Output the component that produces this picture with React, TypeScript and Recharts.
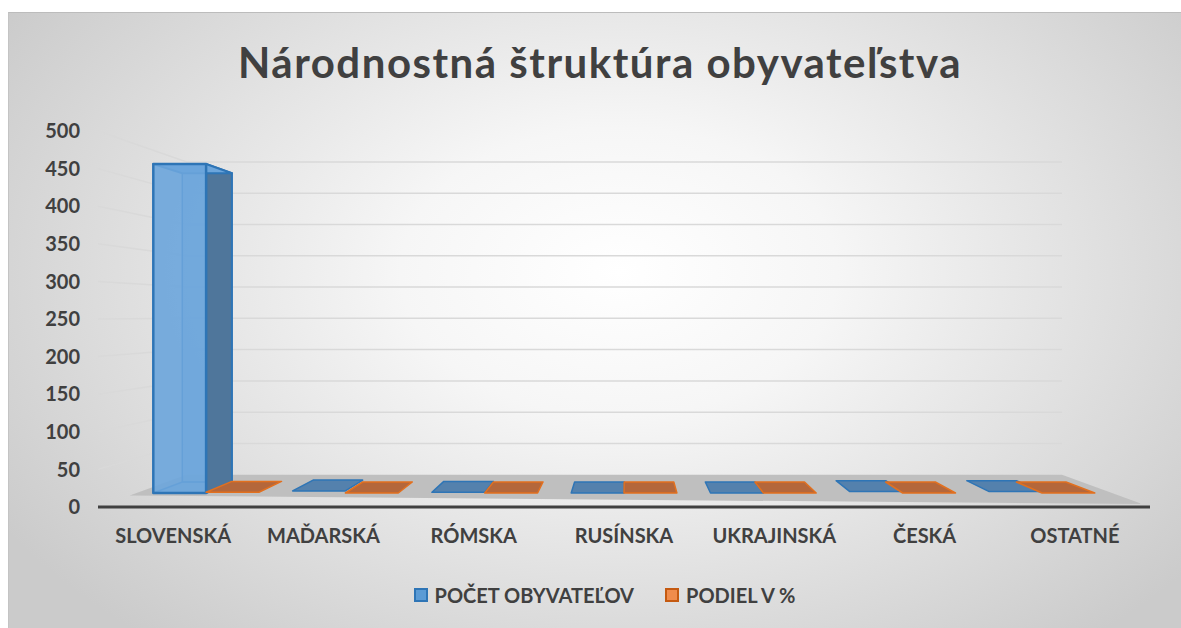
import React from 'react';
import { BarChart, Bar, XAxis, YAxis, CartesianGrid, Legend } from 'recharts';

const categories = ['SLOVENSKÁ', 'MAĎARSKÁ', 'RÓMSKA', 'RUSÍNSKA', 'UKRAJINSKÁ', 'ČESKÁ', 'OSTATNÉ'];
const population = [472, 3, 1, 0, 0, 2, 2];
const share = [0.983, 0.006, 0.002, 0, 0, 0.004, 0.004];
const yTicks = [0, 50, 100, 150, 200, 250, 300, 350, 400, 450, 500];
const populationName = 'POČET OBYVATEĽOV';
const shareName = 'PODIEL V %';
const seriesOrder = ['population', 'share'];

const data = categories.map((name, i) => ({ name, population: population[i], share: share[i] }));

// fake perspective: everything recharts gives us sits on the front plane,
// and gets pulled toward a vanishing point by depth factor k
const VP = { x: 626, y: 315 };
const K_FRONT = 0.927;
const K_BACK = 0.87;
const K_WALL = 0.832;

const proj = (X: number, Y: number, k: number) => [VP.x + (X - VP.x) * k, VP.y + (Y - VP.y) * k];
const pts = (a: number[][]) => a.map((q) => `${q[0].toFixed(1)},${q[1].toFixed(1)}`).join(' ');

const palettes: Record<string, any> = {
  population: { front: '#6ca5db', side: '#4f769b', tile: '#5481ad', edge: '#2e75b6', legend: '#5b9bd5', legendEdge: '#2e75b6' },
  share: { front: '#f08c4c', side: '#a65a2c', tile: '#b4673b', edge: '#e2701f', legend: '#f08c4c', legendEdge: '#c55a11' },
};

const textColor = '#404040';
const font = 'Lato, "Open Sans", sans-serif';

const makeBox = (pal: any) => (props: any) => {
  const { x, y, width, height } = props;
  if (x == null || y == null) return <g />;
  const top = y;
  const base = y + height;
  const F = [proj(x, top, K_FRONT), proj(x + width, top, K_FRONT), proj(x + width, base, K_FRONT), proj(x, base, K_FRONT)];
  const B = [proj(x, top, K_BACK), proj(x + width, top, K_BACK), proj(x + width, base, K_BACK), proj(x, base, K_BACK)];
  const topFace = [F[0], F[1], B[1], B[0]];
  if (Math.abs(height) < 3) {
    return <polygon points={pts(topFace)} fill={pal.tile} stroke={pal.edge} strokeWidth={1.5} strokeLinejoin="round" />;
  }
  const side = x + width < VP.x ? [F[1], B[1], B[2], F[2]] : [F[0], B[0], B[3], F[3]];
  return (
    <g>
      <polygon points={pts(B)} fill={pal.front} fillOpacity={0.5} stroke={pal.edge} strokeWidth={1.5} />
      <polygon points={pts([F[3], F[2], B[2], B[3]])} fill={pal.front} fillOpacity={0.5} stroke={pal.edge} strokeWidth={1.5} />
      <polygon points={pts(side)} fill={pal.side} stroke={pal.edge} strokeWidth={2} strokeLinejoin="round" />
      <polygon points={pts(topFace)} fill={pal.front} stroke={pal.edge} strokeWidth={2} strokeLinejoin="round" />
      <polygon points={pts(F)} fill={pal.front} fillOpacity={0.9} stroke={pal.edge} strokeWidth={2.5} strokeLinejoin="round" />
    </g>
  );
};

// left wall + back wall grid lines; the zero line also draws the floor
const gridLine = (p: any) => {
  const { x1, x2, y1 } = p;
  const left = proj(x1, y1, K_WALL);
  const right = proj(x2, y1, K_WALL);
  const bottom = p.y + p.height;
  if (Math.abs(y1 - bottom) < 0.5) {
    const floor = [proj(x1, y1, 0.94), proj(x2, y1, 0.985), right, left];
    return <polygon key={p.key} points={pts(floor)} fill="#bfbfbf" />;
  }
  return (
    <polyline
      key={p.key}
      points={pts([[x1, y1], left, right])}
      fill="none"
      stroke="#d9d9d9"
      strokeWidth={1.5}
    />
  );
};

const renderLegend = (props: any) => {
  const items = [...(props.payload || [])].sort(
    (a: any, b: any) => seriesOrder.indexOf(a.dataKey) - seriesOrder.indexOf(b.dataKey)
  );
  return (
    <div
      style={{
        display: 'flex',
        justifyContent: 'center',
        alignItems: 'center',
        height: 40,
        paddingLeft: 28,
        gap: 31,
        fontFamily: font,
        fontWeight: 700,
        fontSize: 20,
        color: textColor,
      }}
    >
      {items.map((item: any) => {
        const pal = palettes[item.dataKey] || palettes.population;
        return (
          <span key={item.value} style={{ display: 'flex', alignItems: 'center' }}>
            <span
              style={{
                display: 'inline-block',
                width: 10,
                height: 10,
                background: pal.legend,
                border: `2px solid ${pal.legendEdge}`,
                marginRight: 7,
              }}
            />
            <span>{item.value}</span>
          </span>
        );
      })}
    </div>
  );
};

export default function App() {
  return (
    <div style={{ position: 'absolute', left: 0, top: 0, width: 1181, height: 628, overflow: 'hidden', background: '#fff' }}>
      <div
        style={{
          position: 'absolute',
          left: 8,
          top: 12,
          width: 1173,
          height: 616,
          borderTop: '1px solid #bcbcbc',
          borderLeft: '1px solid #c4c4c4',
          background: 'radial-gradient(ellipse 62% 78% at 52% 42%, #ffffff 0%, #f6f6f6 30%, #cbcbcb 100%)',
        }}
      />
      <div
        style={{
          position: 'absolute',
          left: 0,
          top: 37,
          width: 1200,
          textAlign: 'center',
          fontFamily: font,
          fontWeight: 700,
          fontSize: 42,
          letterSpacing: '1.5px',
          lineHeight: '50px',
          color: textColor,
        }}
      >
        Národnostná štruktúra obyvateľstva
      </div>
      <div style={{ position: 'absolute', left: 0, top: 0 }}>
        <BarChart
          width={1181}
          height={628}
          data={data}
          margin={{ top: 131, right: 31, bottom: 31, left: 38 }}
          barCategoryGap="12%"
          barGap={0}
          style={{ fontFamily: font }}
        >
          <CartesianGrid vertical={false} horizontal={gridLine} />
          <XAxis
            dataKey="name"
            height={50}
            interval={0}
            tickLine={false}
            tickMargin={16}
            axisLine={{ stroke: textColor, strokeWidth: 3 }}
            tick={{ fill: textColor, fontSize: 20, fontWeight: 700, fontFamily: font }}
          />
          <YAxis
            domain={[0, 500]}
            ticks={yTicks}
            interval={0}
            width={60}
            axisLine={false}
            tickLine={false}
            tickMargin={12}
            tick={{ fill: textColor, fontSize: 20, fontWeight: 700, fontFamily: font }}
          />
          <Legend
            verticalAlign="bottom"
            height={40}
            itemSorter="dataKey"
            content={renderLegend}
            wrapperStyle={{ left: 0, width: 1181, bottom: 13 }}
          />
          <Bar
            dataKey="population"
            name={populationName}
            fill={palettes.population.legend}
            shape={makeBox(palettes.population)}
            isAnimationActive={false}
          />
          <Bar
            dataKey="share"
            name={shareName}
            fill={palettes.share.legend}
            shape={makeBox(palettes.share)}
            isAnimationActive={false}
          />
        </BarChart>
      </div>
    </div>
  );
}
